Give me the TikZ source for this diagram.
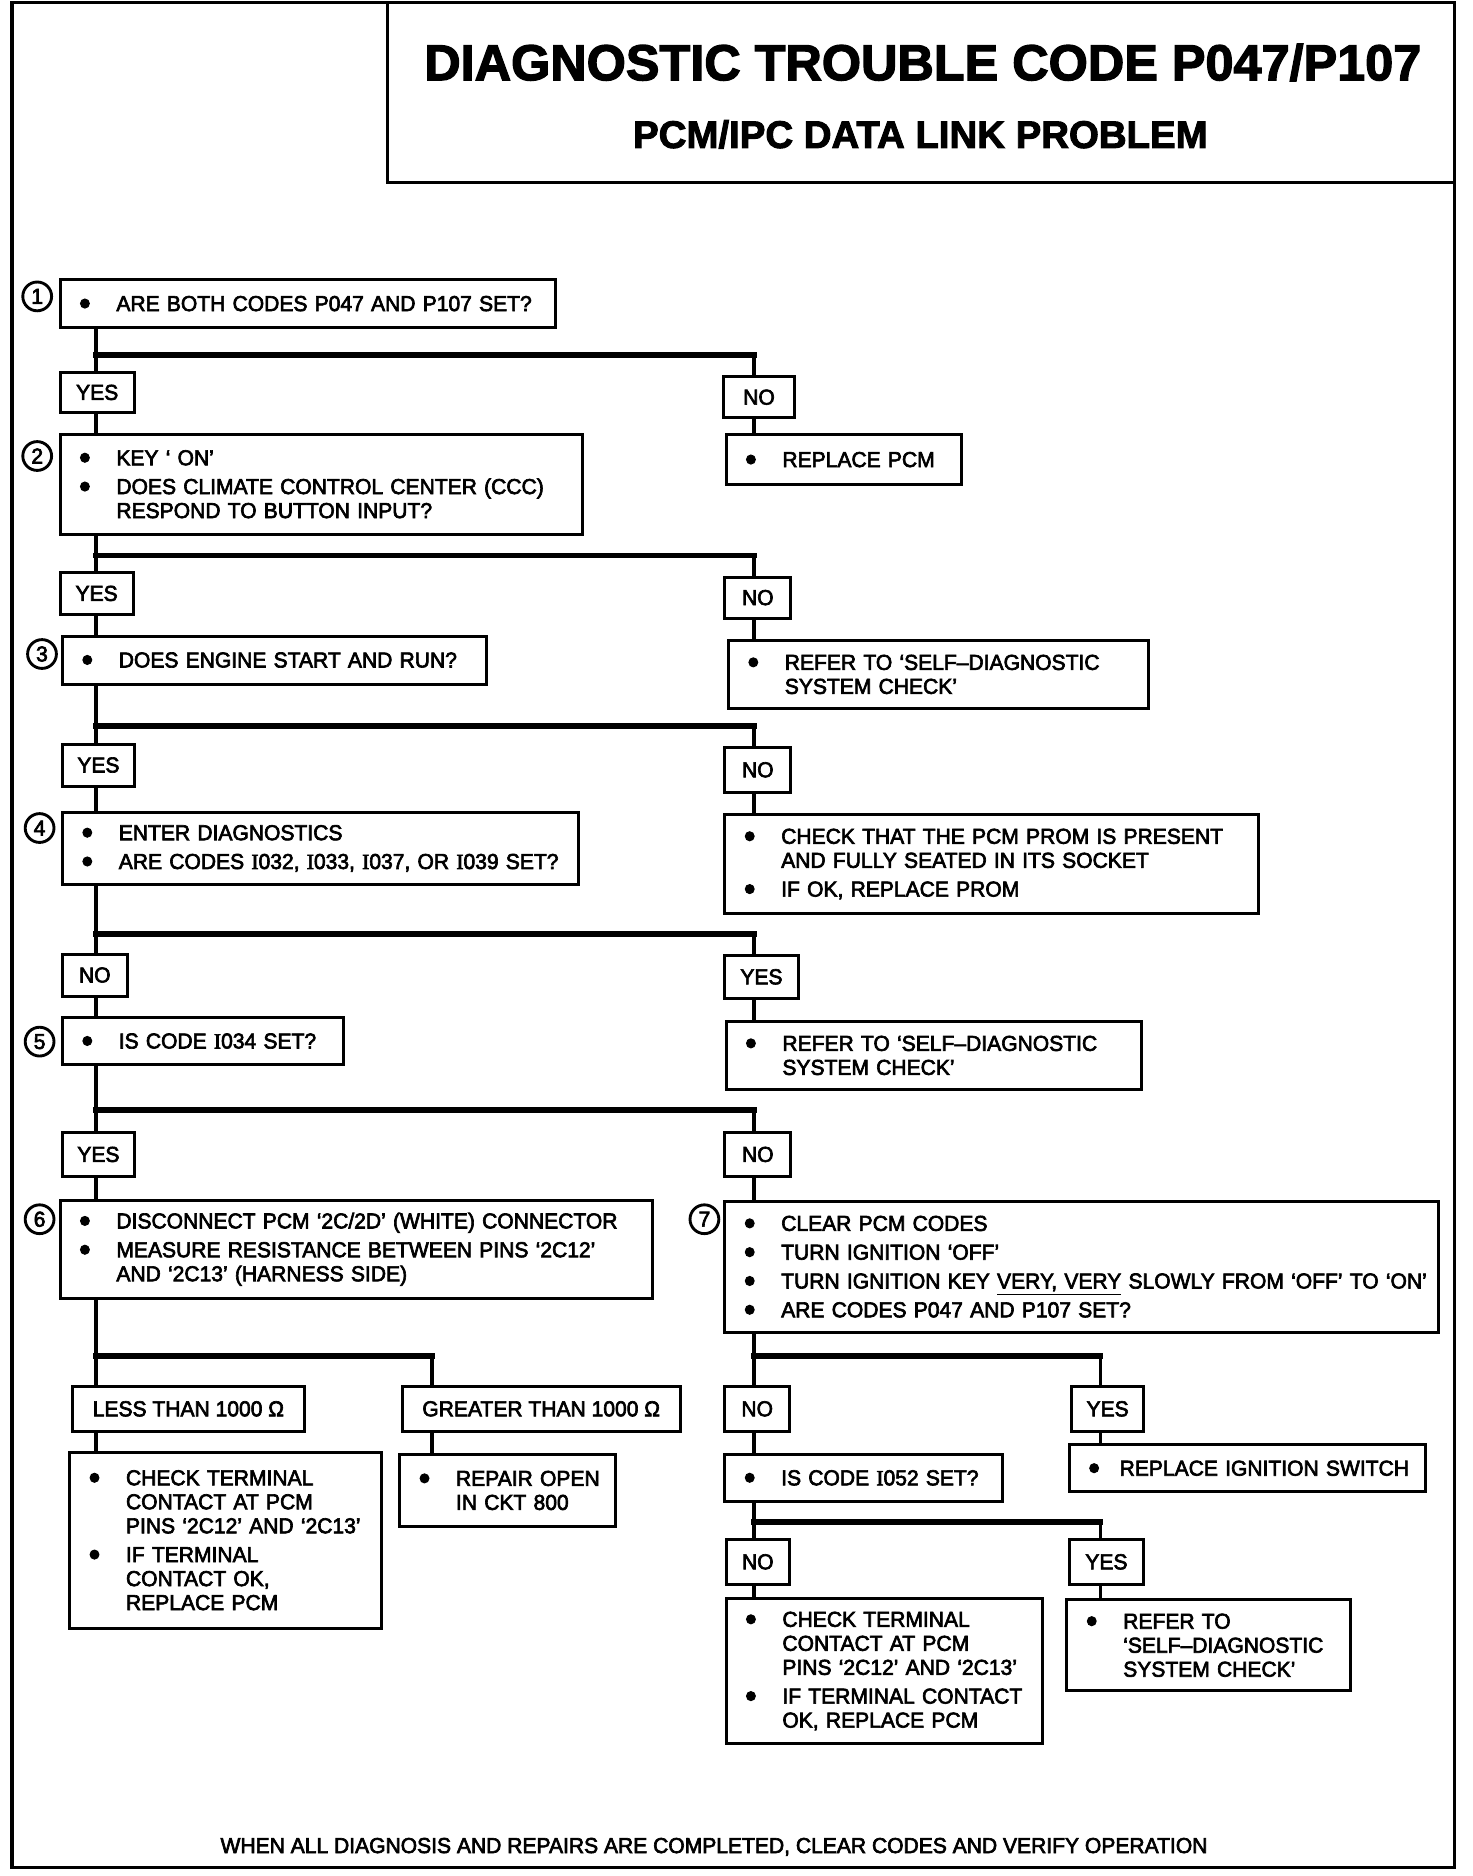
\documentclass[tikz,border=0pt]{standalone}
\usepackage{fontspec}
\setmainfont{Liberation Sans}[FakeBold=3,FakeStretch=0.975]
\newfontfamily\titlefont{Liberation Sans Bold}[FakeBold=2.5,FakeStretch=1.0]
\newfontfamily\serifI{Liberation Serif}[FakeBold=3]
\newcommand\sI{{\serifI I}}
\newcommand\body{\fontsize{9}{10}\selectfont}
\newcommand\bdot{\smash{\raisebox{-1.5pt}{\scalebox{1.55}{•}}}}
\newcommand\itm[2][15.5pt]{\mbox{\makebox[#1][l]{\bdot}#2}}
\newcommand\cnt[2][15.5pt]{\mbox{\hspace*{#1}#2}}
\tikzset{
  frame/.style={draw, line width=1.3pt},
  box/.style={draw, line width=1.25pt, anchor=north west, outer sep=0pt, align=left, inner xsep=8pt, inner ysep=0pt, font=\body},
  lab/.style={draw, line width=1.25pt, anchor=north west, outer sep=0pt, inner sep=0pt, font=\body},
  num/.style={draw, circle, line width=1.2pt, minimum size=12pt, inner sep=0pt, font=\body},
  vline/.style={line width=1.6pt},
  hbar/.style={line width=2.4pt, line cap=rect},
}
\newcommand\mkbox[6]{\pgfmathsetmacro\bxw{#4*0.5-16}\pgfmathsetmacro\bxh{#5*0.5}%
  \node[box, text width=\bxw pt, minimum height=\bxh pt] (#1) at (#2,#3) {#6};}
\newcommand\mklab[6]{\pgfmathsetmacro\bxw{#4*0.5}\pgfmathsetmacro\bxh{#5*0.5}%
  \node[lab, minimum width=\bxw pt, minimum height=\bxh pt] (#1) at (#2,#3) {#6};}
\begin{document}
\begin{tikzpicture}[x=0.5pt,y=-0.5pt]
\useasboundingbox (0,0) rectangle (1226.7,1563.3);
% outer frame and title
\draw[frame] (10,2) rectangle (1212,1556);
\draw[frame] (323,2) rectangle (1212,152);
\node[font=\titlefont\fontsize{21}{24}\selectfont] (t1) at (769,52) {DIAGNOSTIC TROUBLE CODE P047/P107};
\node[font=\titlefont\fontsize{16}{19}\selectfont] (t2) at (767,112) {PCM/IPC DATA LINK PROBLEM};

% columns and junctions
\coordinate (L) at (80,0);
\coordinate (R) at (628,0);
\coordinate (G) at (360,0);
\coordinate (Y) at (917,0);
\coordinate (j1) at (0,296);
\coordinate (j2) at (0,463);
\coordinate (j3) at (0,605);
\coordinate (j4) at (0,778);
\coordinate (j5) at (0,925);
\coordinate (j6) at (0,1130);
\coordinate (j8) at (0,1268);

% boxes
\mkbox{b1}{50}{233}{413}{40}{\itm{ARE BOTH CODES P047 AND P107 SET?}}
\mklab{y1}{50}{310}{62}{34}{YES}
\mklab{n1}{603}{314}{59}{34}{NO}
\mkbox{b2}{50}{362}{435}{83}{\itm{KEY ‘ ON’}\\[2pt]\itm{DOES CLIMATE CONTROL CENTER (CCC)}\\\cnt{RESPOND TO BUTTON INPUT?}}
\mkbox{r1}{605}{362}{196}{42}{\itm{REPLACE PCM}}
\mklab{y2}{50}{477}{61}{35}{YES}
\mklab{n2}{604}{481}{55}{34}{NO}
\mkbox{b3}{52}{530}{353}{40}{\itm{DOES ENGINE START AND RUN?}}
\mkbox{r2}{607}{534}{350}{56}{\itm{REFER TO ‘SELF–DIAGNOSTIC}\\\cnt{SYSTEM CHECK’}}
\mklab{y3}{52}{620}{60}{35}{YES}
\mklab{n3}{604}{623}{55}{37}{NO}
\mkbox{b4}{52}{677}{430}{60}{\itm{ENTER DIAGNOSTICS}\\[2pt]\itm{ARE CODES \sI032, \sI033, \sI037, OR \sI039 SET?}}
\mkbox{r3}{604}{679}{445}{82}{\itm{CHECK THAT THE PCM PROM IS PRESENT}\\\cnt{AND FULLY SEATED IN ITS SOCKET}\\[2pt]\itm{IF OK, REPLACE PROM}}
\mklab{n4}{52}{795}{54}{35}{NO}
\mklab{y4}{604}{796}{61}{36}{YES}
\mkbox{b5}{52}{848}{234}{39}{\itm{IS CODE \sI034 SET?}}
\mkbox{r4}{605}{851}{346}{57}{\itm{REFER TO ‘SELF–DIAGNOSTIC}\\\cnt{SYSTEM CHECK’}}
\mklab{y5}{52}{944}{60}{36}{YES}
\mklab{n5}{604}{944}{55}{36}{NO}
\mkbox{b6}{50}{1000}{494}{82}{\itm{DISCONNECT PCM ‘2C/2D’ (WHITE) CONNECTOR}\\[2pt]\itm{MEASURE RESISTANCE BETWEEN PINS ‘2C12’}\\\cnt{AND ‘2C13’ (HARNESS SIDE)}}
\mkbox{b7}{604}{1001}{595}{109}{\itm{CLEAR PCM CODES}\\[2pt]\itm{TURN IGNITION ‘OFF’}\\[2pt]\itm{TURN IGNITION KEY \underline{VERY, VERY} SLOWLY FROM ‘OFF’ TO ‘ON’}\\[2pt]\itm{ARE CODES P047 AND P107 SET?}}
\mklab{lt}{60}{1155}{194}{38}{LESS THAN 1000 Ω}
\mklab{gt}{335}{1155}{232}{38}{GREATER THAN 1000 Ω}
\mkbox{r5}{58}{1210}{260}{147}{\itm{CHECK TERMINAL}\\\cnt{CONTACT AT PCM}\\\cnt{PINS ‘2C12’ AND ‘2C13’}\\[2pt]\itm{IF TERMINAL}\\\cnt{CONTACT OK,}\\\cnt{REPLACE PCM}}
\mkbox{r6}{333}{1212}{180}{60}{\itm{REPAIR OPEN}\\\cnt{IN CKT 800}}
\mklab{n7}{604}{1155}{54}{38}{NO}
\mklab{y7}{893}{1155}{60}{38}{YES}
\mkbox{b8}{604}{1212}{231}{39}{\itm{IS CODE \sI052 SET?}}
\mkbox{r7}{891}{1204}{297}{39}{\itm[13pt]{REPLACE IGNITION SWITCH}}
\mklab{n8}{605}{1283}{53}{37}{NO}
\mklab{y8}{891}{1283}{62}{37}{YES}
\mkbox{r8}{605}{1332}{264}{121}{\itm{CHECK TERMINAL}\\\cnt{CONTACT AT PCM}\\\cnt{PINS ‘2C12’ AND ‘2C13’}\\[2pt]\itm{IF TERMINAL CONTACT}\\\cnt{OK, REPLACE PCM}}
\mkbox{r9}{889}{1333}{236}{76}{\itm{REFER TO}\\\cnt{‘SELF–DIAGNOSTIC}\\\cnt{SYSTEM CHECK’}}

% step numbers
\node[num] (c1) at (31,247) {1};
\node[num] (c2) at (31,380) {2};
\node[num] (c3) at (35,545) {3};
\node[num] (c4) at (33,690) {4};
\node[num] (c5) at (33,868) {5};
\node[num] (c6) at (33,1016) {6};
\node[num] (c7) at (587,1016) {7};

% connectors level 1
\draw[vline] (b1.south -| L) -- (y1.north -| L);
\draw[hbar] (L |- j1) -- (R |- j1);
\draw[vline] (R |- j1) -- (n1.north -| R);
\draw[vline] (y1.south -| L) -- (b2.north -| L);
\draw[vline] (n1.south -| R) -- (r1.north -| R);
% level 2
\draw[vline] (b2.south -| L) -- (y2.north -| L);
\draw[hbar] (L |- j2) -- (R |- j2);
\draw[vline] (R |- j2) -- (n2.north -| R);
\draw[vline] (y2.south -| L) -- (b3.north -| L);
\draw[vline] (n2.south -| R) -- (r2.north -| R);
% level 3
\draw[vline] (b3.south -| L) -- (y3.north -| L);
\draw[hbar] (L |- j3) -- (R |- j3);
\draw[vline] (R |- j3) -- (n3.north -| R);
\draw[vline] (y3.south -| L) -- (b4.north -| L);
\draw[vline] (n3.south -| R) -- (r3.north -| R);
% level 4
\draw[vline] (b4.south -| L) -- (n4.north -| L);
\draw[hbar] (L |- j4) -- (R |- j4);
\draw[vline] (R |- j4) -- (y4.north -| R);
\draw[vline] (n4.south -| L) -- (b5.north -| L);
\draw[vline] (y4.south -| R) -- (r4.north -| R);
% level 5
\draw[vline] (b5.south -| L) -- (y5.north -| L);
\draw[hbar] (L |- j5) -- (R |- j5);
\draw[vline] (R |- j5) -- (n5.north -| R);
\draw[vline] (y5.south -| L) -- (b6.north -| L);
\draw[vline] (n5.south -| R) -- (b7.north -| R);
% step 6 branch
\draw[vline] (b6.south -| L) -- (lt.north -| L);
\draw[hbar] (L |- j6) -- (G |- j6);
\draw[vline] (G |- j6) -- (gt.north -| G);
\draw[vline] (lt.south -| L) -- (r5.north -| L);
\draw[vline] (gt.south -| G) -- (r6.north -| G);
% step 7 branch
\draw[vline] (b7.south -| R) -- (n7.north -| R);
\draw[hbar] (R |- j6) -- (Y |- j6);
\draw[vline] (Y |- j6) -- (y7.north -| Y);
\draw[vline] (n7.south -| R) -- (b8.north -| R);
\draw[vline] (y7.south -| Y) -- (r7.north -| Y);
% I052 branch
\draw[vline] (b8.south -| R) -- (n8.north -| R);
\draw[hbar] (R |- j8) -- (Y |- j8);
\draw[vline] (Y |- j8) -- (y8.north -| Y);
\draw[vline] (n8.south -| R) -- (r8.north -| R);
\draw[vline] (y8.south -| Y) -- (r9.north -| Y);

% footer
\node[font=\body] (foot) at (595,1539) {WHEN ALL DIAGNOSIS AND REPAIRS ARE COMPLETED, CLEAR CODES AND VERIFY OPERATION};
\end{tikzpicture}
\end{document}
